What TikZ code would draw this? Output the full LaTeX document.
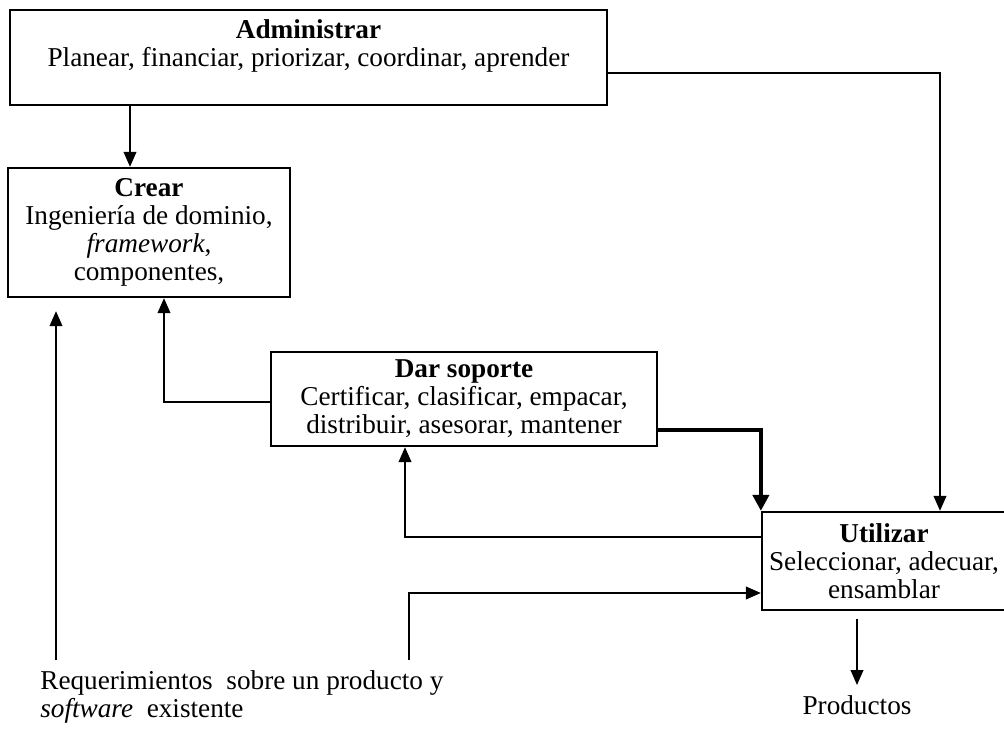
\documentclass[tikz,border=0pt]{standalone}
\usepackage{fontspec}
\setmainfont{Liberation Serif}
\usetikzlibrary{arrows.meta}

\begin{document}
\begin{tikzpicture}[x=0.02cm,y=-0.02cm,
        font=\fontsize{15.5}{16}\selectfont,
        caja/.style={draw,line width=1.3pt,align=center,inner sep=0pt},
        flecha/.style={line width=1.3pt,-{Triangle[length=0.3cm,width=0.25cm]}},
        gruesa/.style={line width=2.6pt,-{Triangle[length=0.32cm,width=0.32cm]}}]
        \useasboundingbox (0,0) rectangle (1004,729);
        % cajas
        \node[caja,minimum width=11.94cm,minimum height=1.9cm] (admin) at (308.5,57.5)
            {\textbf{Administrar}\\Planear, financiar, priorizar, coordinar, aprender\\ \mbox{}};
        \node[caja,minimum width=5.64cm,minimum height=2.58cm] (crear) at (149,232.5)
            {\textbf{Crear}\\Ingeniería de dominio,\\\textit{framework},\\componentes,};
        \node[caja,minimum width=7.72cm,minimum height=1.88cm] (soporte) at (464,399)
            {\textbf{Dar soporte}\\Certificar, clasificar, empacar,\\distribuir, asesorar, mantener};
        \node[caja,minimum width=4.88cm,minimum height=1.96cm] (utilizar) at (884,561)
            {\textbf{Utilizar}\\Seleccionar, adecuar,\\ensamblar};
        \node[inner sep=0pt,align=left,anchor=north west] (req) at (40,670)
            {Requerimientos~ sobre un producto y\\\textit{software}~ existente};
        \node[inner sep=0pt] (prod) at (857,705) {Productos};
        % flechas
        \draw[flecha] (admin.south -| 130,0) -- (crear.north -| 130,0);
        \draw[flecha] (admin.east |- 0,73) -| (utilizar.north -| 940,0);
        \draw[flecha] (soporte.west |- 0,402) -| (crear.south -| 164,0);
        \draw[gruesa] (soporte.east |- 0,430) -| (utilizar.north west);
        \draw[flecha] (utilizar.west |- 0,537) -| (soporte.south -| 405,0);
        \draw[flecha,shorten <=0.2cm] (req.north -| 409,0) |- (utilizar.west |- 0,593);
        \draw[flecha,shorten <=0.2cm,shorten >=0.26cm] (req.north -| 56,0) -- (crear.south -| 56,0);
        \draw[flecha,shorten <=0.16cm,shorten >=0.2cm] (utilizar.south -| prod) -- (prod.north);
\end{tikzpicture}
\end{document}
